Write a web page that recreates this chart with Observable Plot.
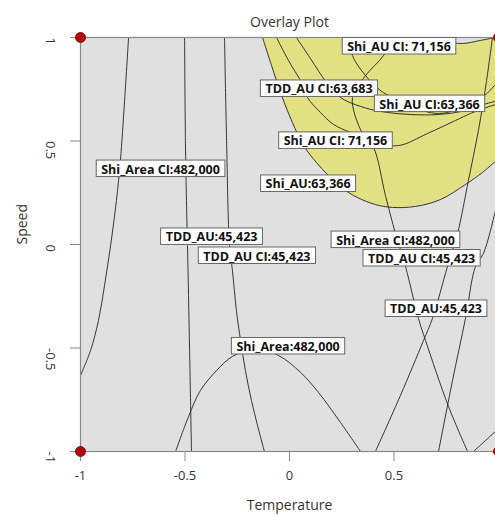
<!DOCTYPE html>
<html><head><meta charset="utf-8">
<script src="https://cdn.jsdelivr.net/npm/d3@7"></script>
<script src="https://cdn.jsdelivr.net/npm/@observablehq/plot@0.6"></script>
<style>html,body{margin:0;padding:0;background:#fff;overflow:hidden;} svg{max-width:none !important;}</style>
</head><body><div id="chart"></div>
<script>
// Axis ticks
const temperatureTicks = [-1, -0.5, 0, 0.5, 1];
const speedTicks = [-1, -0.5, 0, 0.5, 1];

// Design points (Temperature, Speed) with replicate counts
const pointTemperature = [-1, -1, 1, 1];
const pointSpeed = [1, -1, 1, -1];
const pointCount = ["3", "3", "3", "3"];

// Contour curves, [Temperature, Speed]
const shiAreaCiLeft = [[-0.770,1],[-0.789,0.696],[-0.809,0.406],[-0.828,0.213],[-0.856,-0.005],[-0.885,-0.198],[-0.914,-0.367],[-0.952,-0.512],[-1,-0.633]];
const tddAuLeft = [[-0.502,1],[-0.498,0.502],[-0.493,0.213],[-0.488,-0.005],[-0.478,-0.512],[-0.469,-1]];
const tddAuCiLeft = [[-0.311,1],[-0.301,0.502],[-0.287,-0.005],[-0.273,-0.126],[-0.254,-0.319],[-0.234,-0.464],[-0.211,-0.609],[-0.182,-0.754],[-0.153,-0.874],[-0.120,-1]];
const shiArea = [[-0.545,-1],[-0.483,-0.831],[-0.426,-0.705],[-0.349,-0.609],[-0.273,-0.541],[-0.163,-0.507],[-0.053,-0.536],[0.053,-0.618],[0.139,-0.715],[0.244,-0.860],[0.340,-1]];
const shiAreaCiRight = [[0.493,1],[0.450,0.913],[0.364,0.816],[0.301,0.710],[0.349,0.536],[0.402,0.469],[0.459,0.237],[0.507,0.053],[0.555,-0.106],[0.617,-0.357],[0.651,-0.464],[0.761,-0.783],[0.852,-1]];
const tddAuCiRight = [[0.971,1],[0.943,0.792],[0.904,0.551],[0.856,0.309],[0.804,0.053],[0.756,-0.106],[0.684,-0.357],[0.641,-0.464],[0.531,-0.729],[0.411,-1]];
const tddAuRight = [[1,0.217],[0.986,0.164],[0.928,-0.043],[0.890,-0.106],[0.842,-0.357],[0.780,-0.657],[0.713,-1]];
const tddAuCorner = [[0.880,-1],[0.938,-0.947],[1,-0.889]];
const shiAu = [[-0.129,1],[-0.086,0.865],[-0.038,0.720],[0.014,0.589],[0.067,0.478],[0.129,0.396],[0.182,0.338],[0.254,0.271],[0.325,0.227],[0.411,0.193],[0.493,0.179],[0.603,0.184],[0.722,0.217],[0.842,0.290],[0.923,0.348],[1,0.415]];
const shiAuCi71Low = [[-0.062,1],[-0.005,0.889],[0.057,0.783],[0.086,0.710],[0.148,0.638],[0.211,0.580],[0.292,0.541],[0.411,0.493],[0.522,0.478],[0.660,0.536],[0.794,0.599],[0.866,0.633],[0.928,0.657],[1,0.681]];
const shiAuCi63 = [[0.033,1],[0.100,0.899],[0.177,0.783],[0.244,0.710],[0.340,0.667],[0.435,0.643],[0.579,0.628],[0.713,0.628],[0.842,0.647],[0.928,0.676],[1,0.696]];
const tddAuCi63 = [[0.292,1],[0.301,0.913],[0.364,0.816],[0.435,0.744],[0.493,0.710],[0.579,0.667],[0.713,0.633],[0.842,0.667],[0.928,0.715],[0.986,0.773],[1,0.787]];
const shiAuCi71Cap = [[0.675,1],[0.746,0.981],[0.828,0.971],[0.914,0.986],[0.986,1]];

// Contour labels
const labelText = ["Shi_AU CI: 71,156","TDD_AU CI:63,683","Shi_AU CI:63,366","Shi_AU CI: 71,156","Shi_Area CI:482,000","Shi_AU:63,366","TDD_AU:45,423","TDD_AU CI:45,423","Shi_Area CI:482,000","TDD_AU CI:45,423","TDD_AU:45,423","Shi_Area:482,000"];
const labelTemperature = [0.524,0.141,0.670,0.220,-0.617,0.089,-0.373,-0.156,0.507,0.632,0.701,-0.007];
const labelSpeed = [0.954,0.749,0.676,0.498,0.362,0.290,0.034,-0.058,0.019,-0.070,-0.314,-0.495];

const curves = {shiAreaCiLeft, tddAuLeft, tddAuCiLeft, shiArea, shiAreaCiRight, tddAuCiRight, tddAuRight, tddAuCorner, shiAu, shiAuCi71Low, shiAuCi63, tddAuCi63, shiAuCi71Cap};
const lineRows = Object.entries(curves).flatMap(([name, pts]) => pts.map(([x, y]) => ({name, x, y})));
const toRows = pts => pts.map(([x, y]) => ({x, y}));
const points = pointTemperature.map((x, i) => ({x, y: pointSpeed[i], n: pointCount[i]}));
const labels = labelText.map((t, i) => ({t, x: labelTemperature[i], y: labelSpeed[i]}));

const FONT = "'Open Sans', sans-serif";
const plot = Plot.plot({
  width: 520, height: 516,
  marginLeft: 80, marginRight: 22, marginTop: 37, marginBottom: 65,
  style: {fontFamily: FONT, fontSize: "12px", background: "#fff", color: "#333"},
  x: {domain: [-1, 1]},
  y: {domain: [-1, 1]},
  marks: [
    Plot.frame({fill: "#e0e0e0"}),
    Plot.areaY(toRows(shiAu), {x: "x", y1: "y", y2: 1, fill: "#e1e184", curve: "catmull-rom"}),
    Plot.areaY(toRows(shiAuCi71Cap), {x: "x", y1: "y", y2: 1, fill: "#e0e0e0", curve: "catmull-rom"}),
    Plot.line(lineRows, {x: "x", y: "y", z: "name", stroke: "#222", strokeWidth: 0.9, curve: "catmull-rom"}),
    Plot.frame({stroke: "#888", strokeWidth: 1.2}),
    Plot.axisX(temperatureTicks, {tickSize: 10, tickPadding: 9, tickFormat: d => String(d), stroke: "#888", fill: "#333", fontSize: 13, label: null}),
    Plot.axisY(speedTicks, {tickSize: 10, tickFormat: () => "", stroke: "#888", label: null}),
    Plot.text(speedTicks, {y: d => d, frameAnchor: "left", dx: -30, rotate: 90, text: d => String(d), fontSize: 13, fill: "#333"}),
    Plot.text(["Overlay Plot"], {frameAnchor: "top", dy: -20, fontSize: 14, fill: "#333"}),
    Plot.text(["Temperature"], {frameAnchor: "bottom", dy: 58, fontSize: 14, fill: "#333"}),
    Plot.text(["Speed"], {frameAnchor: "left", dx: -58, rotate: -90, fontSize: 14, fill: "#333"}),
    Plot.dot(points, {x: "x", y: "y", r: 5, fill: "#c00000", stroke: "#5a0000", strokeWidth: 0.8}),
    Plot.text(points, {x: "x", y: "y", text: "n", fontSize: 6, fill: "#333", dx: d => d.x > 0 ? -10 : 7, dy: d => d.y > 0 ? 7 : -7}),
    Plot.text(labels, {x: "x", y: "y", text: "t", fontSize: 12.5, fontWeight: 700, fill: "#111"})
  ]
});
plot.style.maxWidth = "none";
document.getElementById("chart").append(plot);
const groups = plot.querySelectorAll('g[aria-label="text"]');
const g = groups[groups.length - 1];
g.querySelectorAll("text").forEach(t => {
  const b = t.getBBox();
  const r = document.createElementNS("http://www.w3.org/2000/svg", "rect");
  r.setAttribute("x", b.x - 5);
  r.setAttribute("y", b.y - 0.5);
  r.setAttribute("width", b.width + 10);
  r.setAttribute("height", b.height - 0.5);
  r.setAttribute("fill", "#fff");
  r.setAttribute("stroke", "#666");
  r.setAttribute("stroke-width", "1");
  if (t.getAttribute("transform")) r.setAttribute("transform", t.getAttribute("transform"));
  g.insertBefore(r, t);
});
</script></body></html>
